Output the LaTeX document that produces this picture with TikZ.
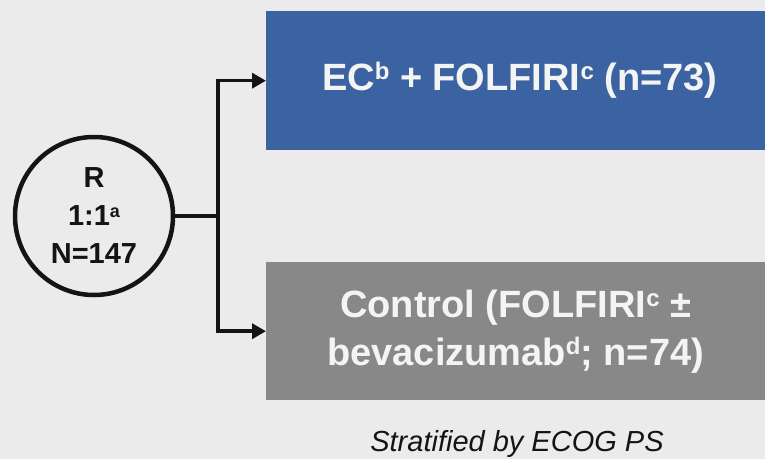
\documentclass[tikz,border=0pt]{standalone}
\usepackage{fontspec}
\setmainfont{Liberation Sans}
\usetikzlibrary{arrows.meta}
\definecolor{bgcol}{HTML}{EBEBEB}
\definecolor{bluebox}{HTML}{3B63A2}
\definecolor{graybox}{HTML}{888888}
\definecolor{boxtext}{HTML}{F4F4F4}
\definecolor{inkcol}{HTML}{141414}
\newcommand\supbig[1]{\raisebox{11pt}{\fontsize{24}{24}\selectfont #1}}
\newcommand\supsmall[1]{\raisebox{8pt}{\fontsize{18}{18}\selectfont #1}}
\begin{document}
\begin{tikzpicture}[x=1pt,y=-1pt,
  armbox/.style={rectangle, inner sep=0pt, minimum width=499pt, anchor=north west,
    text=boxtext, font=\fontsize{38}{48}\selectfont\bfseries, align=center},
  randcircle/.style={circle, draw=inkcol, line width=4.5pt, fill=bgcol, minimum size=158pt,
    inner sep=0pt, font=\fontsize{29}{38}\selectfont\bfseries, text=inkcol, align=center},
  link/.style={draw=inkcol, line width=3.5pt},
  arrowlink/.style={link, -{Triangle[length=14pt,width=15pt]}}]
\fill[bgcol] (0,0) rectangle (765,459);
\useasboundingbox (0,0) rectangle (765,459);
\node[armbox, fill=bluebox, minimum height=139pt] (A) at (266,11)
  {\hspace*{8pt}EC\supbig{b} + FOLFIRI\supbig{c} (n=73)};
\node[armbox, fill=graybox, minimum height=138pt] (B) at (266,262)
  {Control (FOLFIRI\supbig{c} ±\\ bevacizumab\supbig{d}; n=74)};
\node[randcircle] (R) at (94,216) {R\\1:1\supsmall{a}\\N=147};
\coordinate (J) at (218,216);
\node[font=\fontsize{29}{29}\selectfont\itshape, text=inkcol] (S) at (517,444) {Stratified by ECOG PS};
\draw[link] (R.east) -- (J);
\draw[arrowlink] (J) |- (A.west);
\draw[arrowlink] (J) |- (B.west);
\end{tikzpicture}
\end{document}
